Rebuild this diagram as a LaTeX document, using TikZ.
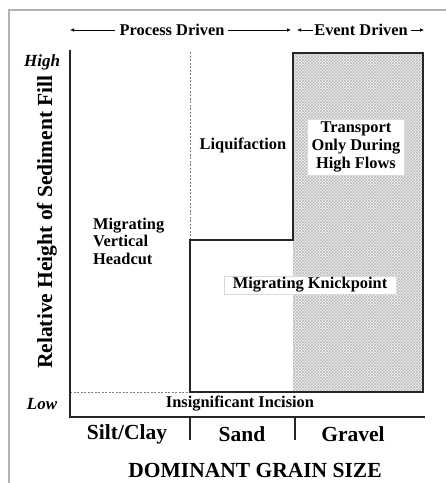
\documentclass[tikz,border=0pt]{standalone}
\usepackage{fontspec}
\setmainfont{Liberation Serif}
\usetikzlibrary{arrows.meta,patterns}
\begin{document}
\begin{tikzpicture}[x=1pt,y=-1pt,
  body/.style={font=\fontsize{16.4}{18}\selectfont\bfseries, inner sep=0pt},
  big/.style={font=\fontsize{21.5}{24}\selectfont\bfseries, inner sep=0pt},
  hl/.style={font=\fontsize{17}{19}\selectfont\bfseries\itshape, inner sep=0pt},
  axisline/.style={line width=1.4pt, black!85},
  stepline/.style={line width=1.4pt, black!85},
  guide/.style={gray, line width=0.8pt, dash pattern=on 2pt off 1.5pt},
  harrow/.style={line width=0.6pt, -{Latex[length=4pt,width=3.5pt]}},
  wbox/.style={fill=white, draw=gray!30, line width=0.4pt}
]
\useasboundingbox (0,0) rectangle (446,483);
% outer frame
\draw[gray!60, line width=1.5pt] (9,483) -- (9,10) -- (446,10);

% header
\node[body] (pd) at (172,30) {Process Driven};
\node[body] (ed) at (361,30) {Event Driven};
\coordinate (pl) at (70,30);
\coordinate (pr) at (291,30);
\coordinate (el) at (297,30);
\coordinate (er) at (424,30);
\draw[harrow] ([xshift=-4pt]pd.west) -- (pl);
\draw[harrow] ([xshift=3pt]pd.east) -- (pr);
\draw[harrow] ([xshift=-1pt]ed.west) -- (el);
\draw[harrow] ([xshift=3pt]ed.east) -- (er);

% hatched region
\fill[gray!10] (293,53) rectangle (423,392);
\fill[pattern=crosshatch, pattern color=gray!55] (293,53) rectangle (423,392);

% guides
\draw[guide] (70,392) -- (190,392);
\draw[guide] (190,52) -- (190,240);

% step outline
\draw[stepline] (190,392) -- (190,240) -- (293,240) -- (293,53) -- (423,53) -- (423,392) -- cycle;

% axes
\draw[axisline] (70,50) -- (70,417) -- (425,417);
\draw[axisline] (190,417) -- (190,440);
\draw[axisline] (295,417) -- (295,440);

% labels
\node[hl] (high) at (42,62) {High};
\node[hl] (low) at (42,404) {Low};
\node[big, rotate=90] (ylab) at (47,222) {Relative Height of Sediment Fill};
\node[body, align=left, anchor=west, font=\fontsize{16.4}{17.5}\selectfont\bfseries] (mvh) at (93,241) {Migrating\\Vertical\\Headcut};
\node[body] (liq) at (243,145) {Liquifaction};
\node[body, wbox, align=center, inner xsep=4pt, inner ysep=3pt] (tr) at (356,147) {Transport\\Only During\\High Flows};
\node[body, wbox, inner xsep=9pt, inner ysep=1.5pt] (mk) at (310,285) {Migrating Knickpoint};
\node[body] (ii) at (240,404) {Insignificant Incision};
\node[big] (sc) at (127,434) {Silt/Clay};
\node[big] (sa) at (242,434) {Sand};
\node[big] (gr) at (353,434) {Gravel};
\node[big] (dgs) at (255,470) {DOMINANT GRAIN SIZE};
\end{tikzpicture}
\end{document}
